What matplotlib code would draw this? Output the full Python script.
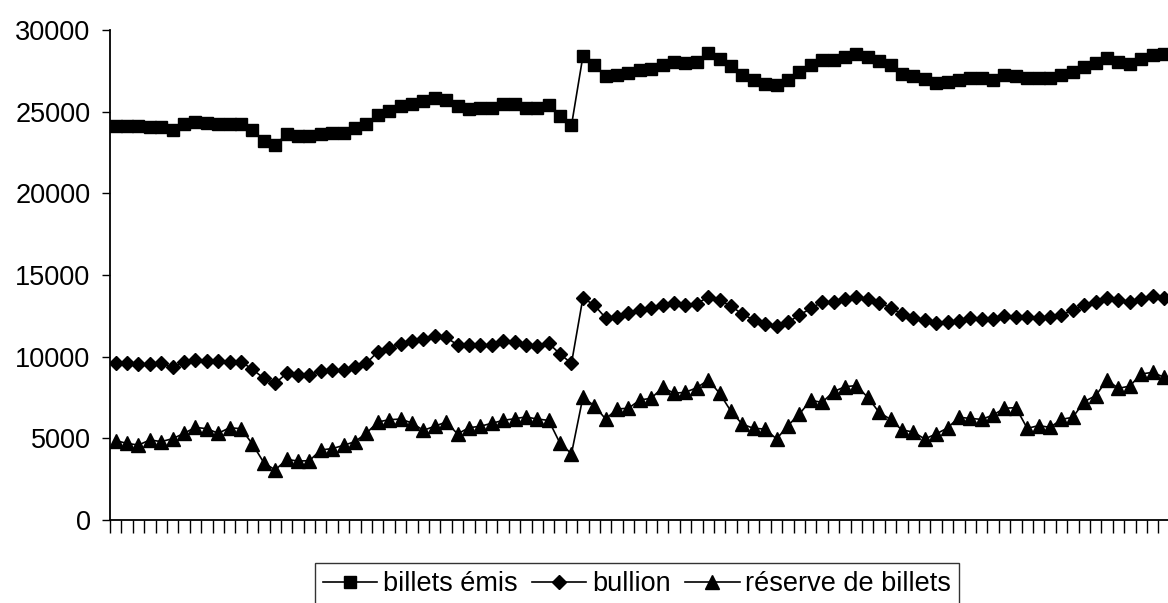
import matplotlib
matplotlib.use("Agg")
import matplotlib.pyplot as plt
import numpy as np

plt.rcParams['font.family'] = ['Liberation Sans', 'DejaVu Sans']

# weekly values, 93 returns
billets = [24150, 24150, 24100, 24060, 24060, 23900, 24270, 24370, 24310, 24270,
           24220, 24270, 23860, 23200, 22940, 23650, 23490, 23490, 23650, 23690,
           23690, 24020, 24220, 24820, 25040, 25330, 25490, 25650, 25860, 25690,
           25330, 25180, 25250, 25250, 25490, 25490, 25250, 25250, 25390, 24710,
           24160, 28390, 27840, 27160, 27220, 27370, 27530, 27630, 27840, 28040,
           27980, 28040, 28590, 28250, 27780, 27230, 26920, 26670, 26610, 26920,
           27430, 27840, 28180, 28180, 28350, 28510, 28350, 28100, 27840, 27290,
           27160, 27020, 26760, 26820, 26960, 27060, 27060, 26940, 27270, 27200,
           27060, 27060, 27060, 27270, 27410, 27760, 27960, 28280, 28020, 27920,
           28250, 28450, 28500]
bullion = [9590, 9590, 9550, 9550, 9590, 9350, 9690, 9800, 9760, 9740,
           9690, 9690, 9230, 8670, 8370, 8980, 8880, 8880, 9140, 9180,
           9180, 9350, 9590, 10310, 10510, 10800, 10980, 11060, 11270, 11180,
           10720, 10720, 10720, 10720, 10980, 10920, 10720, 10650, 10820, 10160,
           9590, 13590, 13160, 12370, 12450, 12700, 12850, 12950, 13150, 13300,
           13150, 13250, 13650, 13450, 13100, 12600, 12250, 12000, 11850, 12100,
           12550, 12950, 13350, 13350, 13550, 13650, 13550, 13300, 13000, 12600,
           12350, 12250, 12050, 12100, 12200, 12350, 12300, 12300, 12500, 12450,
           12400, 12350, 12400, 12550, 12850, 13150, 13350, 13600, 13450, 13350,
           13550, 13700, 13600]
reserve = [4860, 4690, 4590, 4900, 4800, 4980, 5310, 5670, 5590, 5310,
           5650, 5590, 4650, 3510, 3060, 3710, 3610, 3630, 4290, 4370,
           4570, 4800, 5310, 6000, 6140, 6180, 5940, 5490, 5740, 6000,
           5270, 5650, 5740, 5920, 6100, 6200, 6310, 6180, 6100, 4690,
           4060, 7510, 7000, 6180, 6800, 6840, 7350, 7450, 8120, 7760,
           7820, 8100, 8570, 7760, 6650, 5860, 5610, 5570, 4960, 5780,
           6490, 7330, 7200, 7860, 8160, 8230, 7510, 6590, 6160, 5510,
           5390, 4960, 5270, 5630, 6290, 6220, 6160, 6430, 6840, 6880,
           5610, 5780, 5670, 6160, 6290, 7250, 7610, 8570, 8060, 8200,
           8940, 9040, 8740]
labels = ["billets émis", "bullion", "réserve de billets"]

x = np.arange(len(billets))

fig = plt.figure(figsize=(11.68, 6.03), dpi=100)
ax = fig.add_axes([110 / 1168, 1 - 520 / 603, 1059.7 / 1168, 490 / 603])

ax.plot(x, billets, color="black", lw=1.2, marker="s", ms=8, label=labels[0])
ax.plot(x, bullion, color="black", lw=1.2, marker="D", ms=7, label=labels[1])
ax.plot(x, reserve, color="black", lw=1.2, marker="^", ms=10, label=labels[2])

ax.set_xlim(-0.5, len(billets) - 0.5)
ax.set_ylim(0, 30000)
ax.set_yticks(np.arange(0, 30001, 5000))
ax.set_xticks(np.arange(-0.5, len(billets), 1.0))
ax.set_xticklabels([])
ax.tick_params(axis="x", direction="out", length=9.5, width=1, color="black")
ax.tick_params(axis="y", direction="out", length=6, width=1, labelsize=19.5, pad=8)
for s in ["top", "right"]:
    ax.spines[s].set_visible(False)
for s in ["left", "bottom"]:
    ax.spines[s].set_linewidth(1.3)

leg = fig.legend(loc="upper center", bbox_to_anchor=(637 / 1168, 1 - 563 / 603),
                 ncol=3, fontsize=19.5, frameon=True, fancybox=False,
                 edgecolor="black", handlelength=2.0, handletextpad=0.2,
                 columnspacing=0.55, borderpad=0.3, borderaxespad=0)
leg.get_frame().set_linewidth(1.0)

fig.savefig("out.png", dpi=100)
